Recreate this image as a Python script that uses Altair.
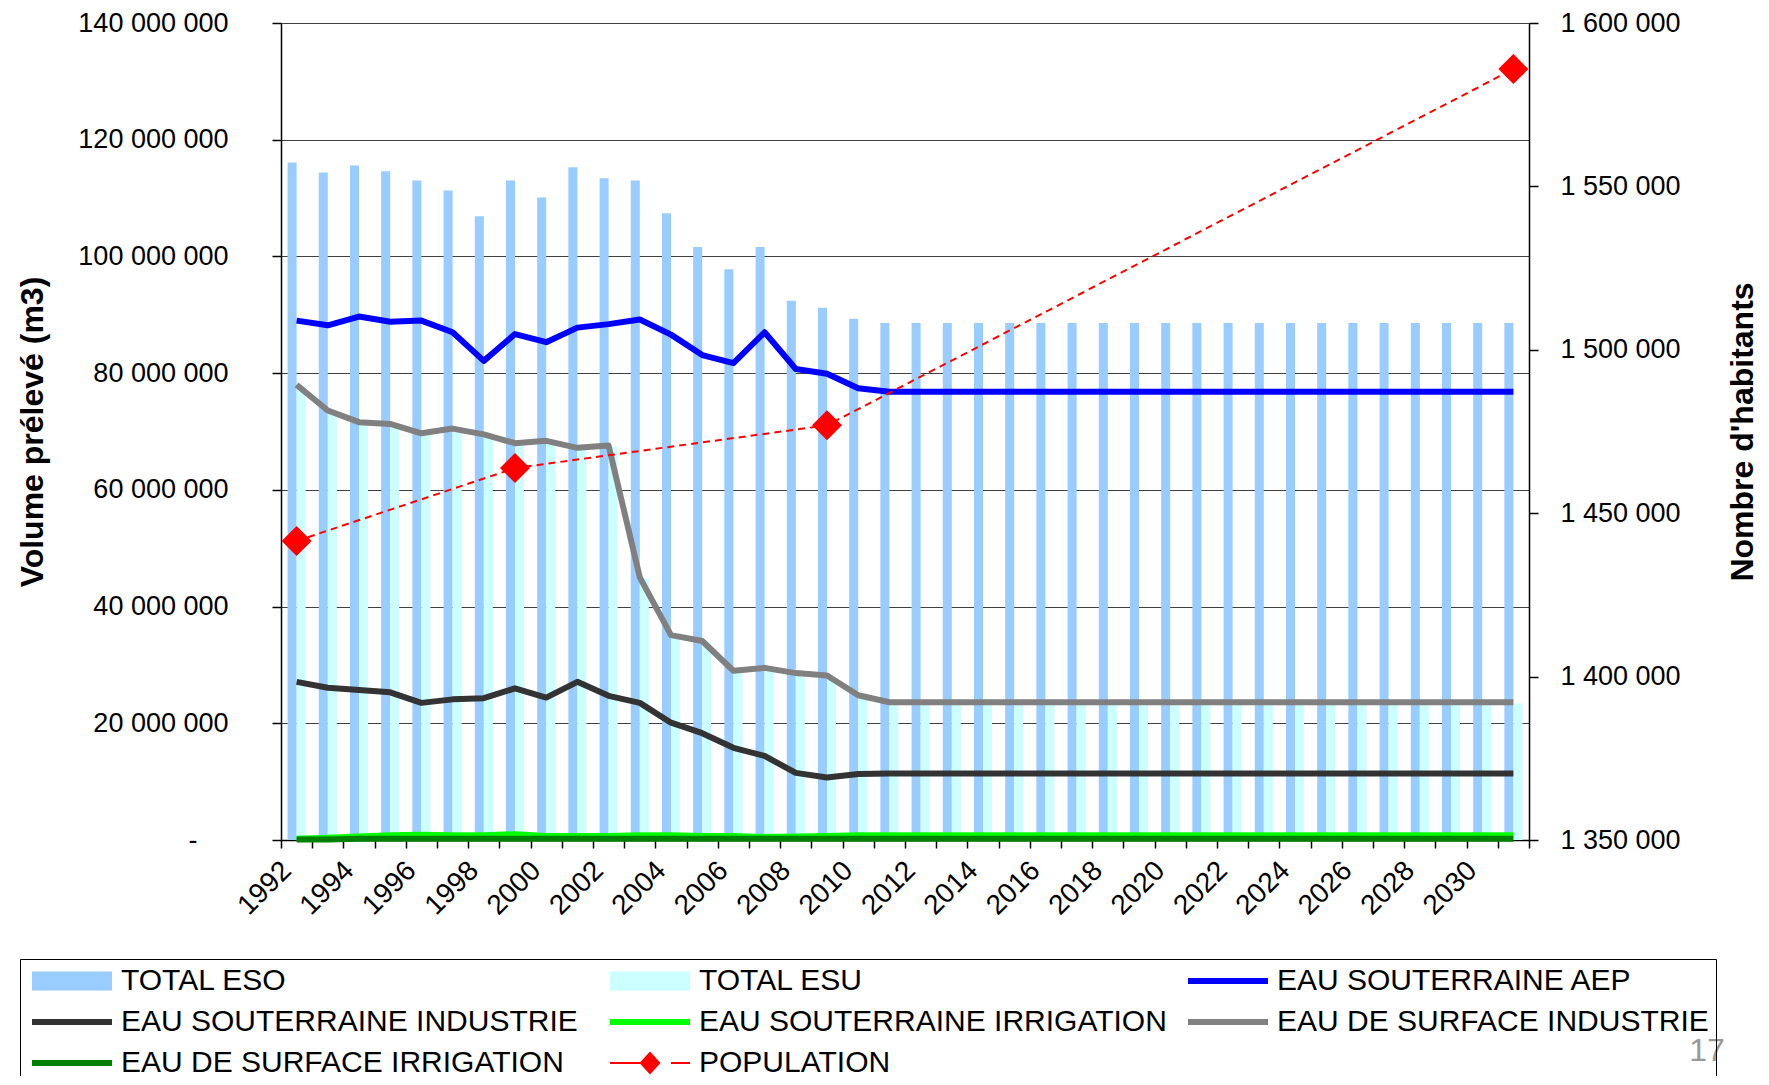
import altair as alt
import pandas as pd

years = list(range(1992, 2032))

# values in millions of m3
total_eso = [116.1, 114.4, 115.6, 114.6, 113.0, 111.3, 106.9, 113.0, 110.1, 115.3,
             113.4, 113.0, 107.4, 101.6, 97.8, 101.6, 92.4, 91.2, 89.3, 88.6,
             88.6, 88.6, 88.6, 88.6, 88.6, 88.6, 88.6, 88.6, 88.6, 88.6,
             88.6, 88.6, 88.6, 88.6, 88.6, 88.6, 88.6, 88.6, 88.6, 88.6]
total_esu = [77.8, 73.3, 71.4, 71.1, 69.5, 70.3, 69.3, 67.8, 68.2, 67.0,
             67.4, 44.8, 34.9, 33.9, 28.8, 29.3, 28.4, 28.0, 24.6, 23.4,
             23.4, 23.4, 23.4, 23.4, 23.4, 23.4, 23.4, 23.4, 23.4, 23.4,
             23.4, 23.4, 23.4, 23.4, 23.4, 23.4, 23.4, 23.4, 23.4, 23.4]
sout_aep = [89.0, 88.2, 89.7, 88.8, 89.0, 87.0, 82.1, 86.7, 85.3, 87.8,
            88.4, 89.2, 86.6, 83.1, 81.7, 87.0, 80.7, 79.9, 77.4, 76.8,
            76.8, 76.8, 76.8, 76.8, 76.8, 76.8, 76.8, 76.8, 76.8, 76.8,
            76.8, 76.8, 76.8, 76.8, 76.8, 76.8, 76.8, 76.8, 76.8, 76.8]
sout_ind = [27.1, 26.1, 25.7, 25.3, 23.5, 24.1, 24.3, 26.0, 24.4, 27.1,
            24.7, 23.5, 20.1, 18.3, 15.8, 14.4, 11.5, 10.7, 11.3, 11.4,
            11.4, 11.4, 11.4, 11.4, 11.4, 11.4, 11.4, 11.4, 11.4, 11.4,
            11.4, 11.4, 11.4, 11.4, 11.4, 11.4, 11.4, 11.4, 11.4, 11.4]
sout_irr = [0.2, 0.4, 0.6, 0.8, 0.9, 0.8, 0.8, 1.0, 0.7, 0.7,
            0.7, 0.8, 0.8, 0.7, 0.7, 0.5, 0.6, 0.7, 0.8, 0.8,
            0.8, 0.8, 0.8, 0.8, 0.8, 0.8, 0.8, 0.8, 0.8, 0.8,
            0.8, 0.8, 0.8, 0.8, 0.8, 0.8, 0.8, 0.8, 0.8, 0.8]
surf_ind = [78.0, 73.6, 71.6, 71.3, 69.7, 70.5, 69.5, 68.0, 68.4, 67.2,
            67.6, 45.0, 35.1, 34.1, 29.0, 29.5, 28.6, 28.2, 24.8, 23.6,
            23.6, 23.6, 23.6, 23.6, 23.6, 23.6, 23.6, 23.6, 23.6, 23.6,
            23.6, 23.6, 23.6, 23.6, 23.6, 23.6, 23.6, 23.6, 23.6, 23.6]
surf_irr = [0.1, 0.1, 0.2, 0.2, 0.2, 0.2, 0.2, 0.2, 0.2, 0.2,
            0.2, 0.2, 0.2, 0.2, 0.2, 0.2, 0.2, 0.2, 0.2, 0.2,
            0.2, 0.2, 0.2, 0.2, 0.2, 0.2, 0.2, 0.2, 0.2, 0.2,
            0.2, 0.2, 0.2, 0.2, 0.2, 0.2, 0.2, 0.2, 0.2, 0.2]

pop_years = [1992, 1999, 2009, 2031]
population = [1441500, 1463800, 1476900, 1585900]

left_ticks = [0, 20000000, 40000000, 60000000, 80000000, 100000000, 120000000, 140000000]
right_ticks = [1350000, 1400000, 1450000, 1500000, 1550000, 1600000]

series_names = ["TOTAL ESO", "TOTAL ESU", "EAU SOUTERRAINE AEP", "EAU SOUTERRAINE INDUSTRIE",
                "EAU SOUTERRAINE IRRIGATION", "EAU DE SURFACE INDUSTRIE",
                "EAU DE SURFACE IRRIGATION", "POPULATION"]
series_colors = ["#99CCFF", "#CCFFFF", "#0000FF", "#333333", "#00FF00", "#808080", "#008000", "#FF0000"]
color_of = dict(zip(series_names, series_colors))

BAR_SYM = "M-1,-0.95H7V0.95H-1Z"
LINE_SYM = "M-1,-0.3H7V0.3H-1Z"
POP_SYM = "M-1,-0.1H2V0.1H-1Z M3,-1.15L4.05,0L3,1.15L1.95,0Z M5.1,-0.1H7V0.1H5.1Z"
series_shapes = [BAR_SYM, BAR_SYM, LINE_SYM, LINE_SYM, LINE_SYM, LINE_SYM, LINE_SYM, POP_SYM]

FONT = "Liberation Sans"

bar_rows = []
for i, y in enumerate(years):
    bar_rows.append({"year": y, "series": "TOTAL ESO", "value": total_eso[i] * 1e6})
    bar_rows.append({"year": y, "series": "TOTAL ESU", "value": total_esu[i] * 1e6})
bar_df = pd.DataFrame(bar_rows)

line_series = [("EAU SOUTERRAINE AEP", sout_aep), ("EAU SOUTERRAINE INDUSTRIE", sout_ind),
               ("EAU SOUTERRAINE IRRIGATION", sout_irr), ("EAU DE SURFACE INDUSTRIE", surf_ind),
               ("EAU DE SURFACE IRRIGATION", surf_irr)]
line_rows = []
for name, vals in line_series:
    for i, y in enumerate(years):
        line_rows.append({"year": y, "series": name, "value": vals[i] * 1e6})
line_df = pd.DataFrame(line_rows)

pop_df = pd.DataFrame({"year": pop_years, "pop": population, "series": "POPULATION"})
legend_df = pd.DataFrame({"series": series_names})

color_scale = alt.Scale(domain=series_names, range=series_colors)
shape_scale = alt.Scale(domain=series_names, range=series_shapes)

legend_props = dict(
    title=None, orient="none", legendX=-261, legendY=936, columns=3, direction="horizontal",
    gridAlign="all", columnPadding=16, rowPadding=11, symbolSize=400, symbolOffset=0,
    labelOffset=64, labelFontSize=30, labelFont=FONT, labelColor="#000", labelLimit=900,
    strokeColor="#000", padding=7, symbolStrokeWidth=0, symbolOpacity=1,
)

x_enc = alt.X(
    "year:O",
    scale=alt.Scale(paddingInner=0, paddingOuter=0),
    axis=alt.Axis(
        title=None, labelAngle=315, labelAlign="right", labelBaseline="middle",
        labelExpr="datum.value % 2 == 0 ? datum.label : ''", labelOverlap=False,
        tickBand="extent", ticks=True, tickSize=8, tickColor="#000", tickWidth=1.5,
        domainColor="#000", domainWidth=1.5, labelFontSize=28, labelFont=FONT,
        labelColor="#000", labelPadding=18, labelOffset=-10, grid=False,
    ),
)

fmt = "replace(replace(format(datum.value, ','), ',', ' '), ',', ' ')"

y_left = alt.Y(
    "value:Q",
    scale=alt.Scale(domain=[0, 140000000], nice=False, zero=True),
    axis=alt.Axis(
        title="Volume prélevé (m3)", values=left_ticks,
        labelExpr="datum.value == 0 ? '-' : " + fmt,
        grid=True, gridColor="#404040", gridWidth=1.2,
        tickSize=9, tickColor="#000", tickWidth=1.5, domainColor="#000", domainWidth=1.5,
        labelFontSize=27, labelFont=FONT, labelColor="#000",
        labelPadding={"condition": {"test": "datum.value == 0", "value": 75}, "value": 44},
        titleFontSize=32, titleFont=FONT, titleFontWeight="bold", titleColor="#000",
        titlePadding=32,
    ),
)

y_right = alt.Y(
    "pop:Q",
    scale=alt.Scale(domain=[1350000, 1600000], nice=False, zero=False),
    axis=alt.Axis(
        orient="right", title="Nombre d'habitants", values=right_ticks,
        labelExpr=fmt, grid=False,
        tickSize=9, tickColor="#000", tickWidth=1.5, domainColor="#000", domainWidth=1.5,
        labelFontSize=27, labelFont=FONT, labelColor="#000", labelPadding=22,
        titleFontSize=32, titleFont=FONT, titleFontWeight="bold", titleColor="#000",
        titleAngle=270, titleBaseline="top", titlePadding=47,
    ),
)

bars = alt.Chart(bar_df).mark_bar().encode(
    x=x_enc,
    xOffset=alt.XOffset("series:N", scale=alt.Scale(domain=["TOTAL ESO", "TOTAL ESU"],
                                                     paddingInner=0, paddingOuter=0.73)),
    y=y_left,
    color=alt.Color("series:N", scale=color_scale, legend=alt.Legend(**legend_props)),
)

line_layers = []
for name, _ in line_series:
    line_layers.append(
        alt.Chart(line_df).transform_filter(alt.datum.series == name)
        .mark_line(strokeWidth=6, strokeJoin="round", color=color_of[name])
        .encode(x=x_enc, y=y_left)
    )

left = alt.layer(bars, *line_layers)

pop_line = alt.Chart(pop_df).mark_line(color="#FF0000", strokeWidth=2, strokeDash=[7, 5]).encode(
    x=x_enc, y=y_right)
pop_pts = alt.Chart(pop_df).mark_point(filled=True, shape="diamond", size=900, opacity=1,
                                       color="#FF0000").encode(x=x_enc, y=y_right)
right = alt.layer(pop_line, pop_pts)

legend_layer = alt.Chart(legend_df).mark_point(opacity=0, size=400, filled=True).encode(
    x=alt.value(0), y=alt.value(0),
    color=alt.Color("series:N", scale=color_scale, legend=alt.Legend(**legend_props)),
    shape=alt.Shape("series:N", scale=shape_scale, legend=alt.Legend(**legend_props)),
)

note = alt.Chart(pd.DataFrame({"t": ["17"]})).mark_text(
    font=FONT, fontSize=32, color="#999999", align="center", baseline="middle"
).encode(text="t:N", x=alt.value(1426), y=alt.value(1028))

chart = alt.layer(left, right, legend_layer, note).resolve_scale(
    y="independent"
).properties(
    width=1248, height=817,
    padding={"left": 273, "top": 15, "right": 232, "bottom": 236},
    autosize=alt.AutoSizeParams(type="none"),
).configure_view(stroke=None).configure(font=FONT)

chart.save("out.html", embed_options={"renderer": "svg", "actions": False})
